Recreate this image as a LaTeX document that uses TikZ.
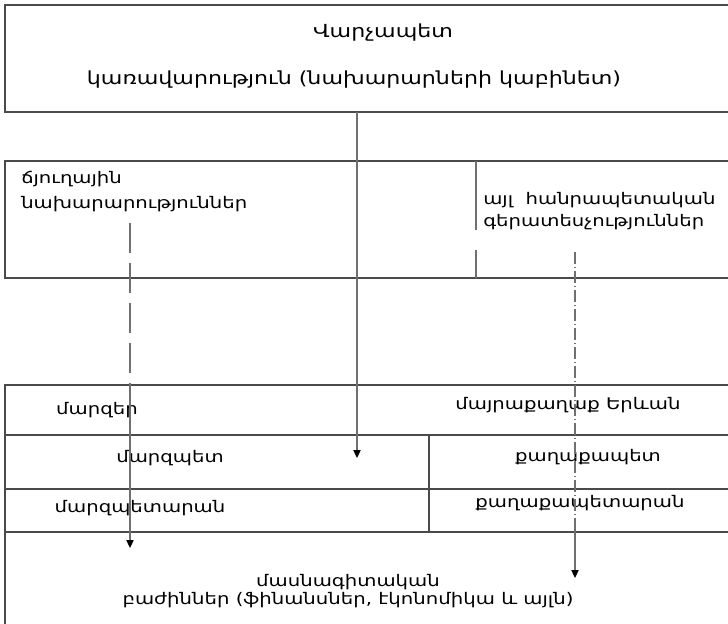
\documentclass[tikz,border=0pt]{standalone}
\usepackage{fontspec}
\setmainfont{DejaVu Sans}[FakeStretch = 1.23]
\usetikzlibrary{arrows.meta,positioning}
\definecolor{linegray}{HTML}{707070}
\definecolor{boxgray}{HTML}{4A4A4A}
\tikzstyle{cell} = [draw = boxgray, line width = 0.8pt]
\tikzstyle{lbl} = [inner sep = 0pt, font = \fontsize{12}{14}\selectfont]
\tikzstyle{biglbl} = [inner sep = 0pt, font = \fontsize{13.5}{16}\selectfont]
\tikzstyle{arrow} = [draw = linegray, line width = 0.8pt, -{Triangle[width = 5.5pt, length = 6pt, color = black]}]
\tikzstyle{dline} = [draw = linegray, line width = 0.8pt, dash pattern = on 22.5pt off 7.5pt]
\tikzstyle{ddline} = [draw = linegray, line width = 0.8pt, dash pattern = on 9pt off 2.25pt on 0.75pt off 2.25pt]
\tikzstyle{line} = [draw = linegray, line width = 0.8pt]

\begin{document}
\begin{tikzpicture}[x = 0.75pt, y = -0.75pt]
    \useasboundingbox (0, 0) rectangle (728, 624);
    \clip (0, 0) rectangle (728, 624);
    	% boxes
    	\draw[cell] (5, 5) rectangle (745, 112);
    	\draw[cell] (5, 161) rectangle (745, 278);
    	\draw[cell] (5, 385) rectangle (745, 640);
    	\draw[cell] (5, 435) -- (745, 435);
    	\draw[cell] (5, 489) -- (745, 489);
    	\draw[cell] (5, 532) -- (745, 532);
    	\draw[cell] (429, 435) -- (429, 532);
    	\draw[line] (476, 161) -- (476, 230);
    	\draw[line] (476, 250) -- (476, 278);
    	% texts
    	\node(pm)[biglbl] at (383, 33) {Վարչապետ};
    	\node(gov)[biglbl] at (354, 80) {կառավարություն (նախարարների կաբինետ)};
    	\node(branch)[lbl, anchor = west, align = left, font = \fontsize{12}{18.75}\selectfont] at (21, 192) {ճյուղային\\նախարարություններ};
    	\node(other)[lbl, anchor = west, align = left, font = \fontsize{12}{16.5}\selectfont] at (483, 211) {այլ \ հանրապետական\\գերատեսչություններ};
    	\node(regions)[lbl] at (97, 410) {մարզեր};
    	\node(capital)[lbl] at (568, 405) {մայրաքաղաք Երևան};
    	\node(governor)[lbl] at (170, 458) {մարզպետ};
    	\node(mayor)[lbl] at (588, 457) {քաղաքապետ};
    	\node(govoffice)[lbl] at (140, 508) {մարզպետարան};
    	\node(cityhall)[lbl] at (580, 503) {քաղաքապետարան};
    	\node(depts)[lbl, align = center, font = \fontsize{12}{13.5}\selectfont] at (348, 591) {մասնագիտական\\բաժիններ (ֆինանսներ, էկոնոմիկա և այլն)};
    	% connectors
    	\coordinate(govout) at (357, 112);
    	\coordinate(govend) at (357, 458);
    	\coordinate(branchout) at (130, 223);
    	\coordinate(branchmid) at (130, 385);
    	\coordinate(branchend) at (130, 548);
    	\coordinate(otherout) at (575, 252);
    	\coordinate(othermid) at (575, 522);
    	\coordinate(otherend) at (575, 578);
        \draw[arrow] (govout) -- (govend);
        \draw[dline] (branchout) -- (branchmid);
        \draw[arrow] (branchmid) -- (branchend);
        \draw[ddline] (otherout) -- (othermid);
        \draw[arrow] (othermid) -- (otherend);
    \end{tikzpicture}
\end{document}
